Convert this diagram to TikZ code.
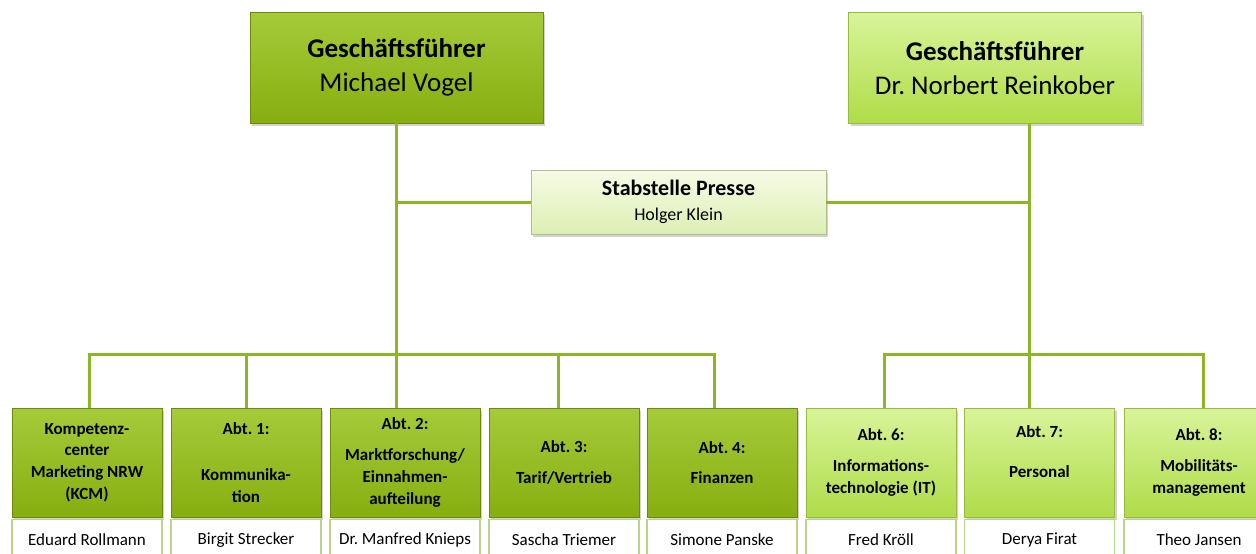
\documentclass[tikz,border=0pt]{standalone}
\usepackage{fontspec}
\setmainfont{Carlito}
\usetikzlibrary{positioning,shadows}
\frenchspacing
\definecolor{linegreen}{HTML}{8DB52A}
\definecolor{darktop}{HTML}{A5CB3A}
\definecolor{darkbot}{HTML}{87AE10}
\definecolor{lighttop}{HTML}{D8F49A}
\definecolor{lightbot}{HTML}{B0DC48}
\definecolor{paletop}{HTML}{F6FBE6}
\definecolor{palebot}{HTML}{DDEFB3}
\definecolor{nameborder}{HTML}{B8D58E}
\tikzset{
  orgline/.style={draw=linegreen, line width=3pt},
  boxshadow/.style={drop shadow={shadow xshift=2pt, shadow yshift=-2.5pt, opacity=.35}},
  chef/.style={boxshadow, align=center, inner sep=0pt,
    minimum width=293pt, minimum height=111pt,
    font=\fontsize{27}{34}\selectfont},
  chef dark/.style={chef, draw=darkbot!80!black, top color=darktop, bottom color=darkbot},
  chef light/.style={chef, draw=lightbot!85!black, top color=lighttop, bottom color=lightbot},
  stab/.style={boxshadow, align=center, inner sep=0pt,
    draw=palebot!80!black, top color=paletop, bottom color=palebot,
    minimum width=295pt, minimum height=64pt,
    font=\fontsize{18}{25}\selectfont},
  abt/.style={boxshadow, align=center, inner sep=0pt,
    minimum width=150pt, minimum height=109pt,
    font=\fontsize{17}{21.7}\selectfont\bfseries},
  abt dark/.style={abt, draw=darkbot!80!black, top color=darktop, bottom color=darkbot},
  abt light/.style={abt, draw=lightbot!85!black, top color=lighttop, bottom color=lightbot},
  namebox/.style={draw=nameborder, line width=1.2pt, fill=white,
    minimum width=150pt, minimum height=40pt, inner sep=0pt,
    font=\fontsize{17}{21}\selectfont}
}
\begin{document}
\begin{tikzpicture}[x=1pt,y=-1pt]
\useasboundingbox (0,0) rectangle (1256,554);
\clip (0,0) rectangle (1256,554);
% Geschaeftsfuehrung
\node[chef dark] (gf1) at (396.5,67.5) {\textbf{Geschäftsführer}\\Michael Vogel};
\node[chef light] (gf2) at (995,68) {\textbf{Geschäftsführer}\\Dr. Norbert Reinkober};
\node[stab] (presse) at (678.5,202)
  {{\fontsize{22}{25}\selectfont\bfseries Stabstelle Presse}\\Holger Klein};
% Abteilungen
\node[abt dark] (a0) at (87,462.5) {Kompetenz-\\center\\Marketing NRW\\(KCM)};
\node[abt dark] (a1) at (246,462.5) {Abt. 1:\\[25pt]Kommunika-\\tion};
\node[abt dark] (a2) at (405,462.5) {Abt. 2:\\[9pt]Marktforschung/\\Einnahmen-\\aufteilung};
\node[abt dark] (a3) at (564,462.5) {Abt. 3:\\[9pt]Tarif/Vertrieb};
\node[abt dark] (a4) at (722,462.5) {Abt. 4:\\[9pt]Finanzen};
\node[abt light] (a5) at (881,462.5) {Abt. 6:\\[9pt]Informations-\\technologie (IT)};
\node[abt light] (a6) at (1039.5,462.5) {Abt. 7:\\[19pt]Personal\\\mbox{}};
\node[abt light] (a7) at (1199,462.5) {Abt. 8:\\[9pt]Mobilitäts-\\management};
\foreach \k/\name in {%
  a0/Eduard Rollmann,
  a1/Birgit Strecker,
  a2/Dr. Manfred Knieps,
  a3/Sascha Triemer,
  a4/Simone Panske,
  a5/Fred Kröll,
  a6/Derya Firat,
  a7/Theo Jansen%
} {
  \node[namebox, below=2pt of \k] (n\k) {\name};
}
% Linien
\coordinate (bus) at (0,354);
\coordinate (rv) at (1029,0);
\draw[orgline] (gf1.south) -- (gf1.south |- a2.north);
\draw[orgline] (rv |- gf2.south) -- (rv |- a6.north);
\draw[orgline] (presse.west) -- (presse.west -| gf1);
\draw[orgline] (presse.east) -- (presse.east -| rv);
\draw[orgline] ([xshift=2pt]a0.north) |- ([xshift=-8pt]a4.north |- bus)
  -- ([xshift=-8pt]a4.north);
\draw[orgline] ([xshift=3pt]a5.north) |- ([xshift=4pt]a7.north |- bus)
  -- ([xshift=4pt]a7.north);
\draw[orgline] (a1.north) -- (a1.north |- bus);
\draw[orgline] ([xshift=-6pt]a3.north) -- ([xshift=-6pt]a3.north |- bus);
\end{tikzpicture}
\end{document}
